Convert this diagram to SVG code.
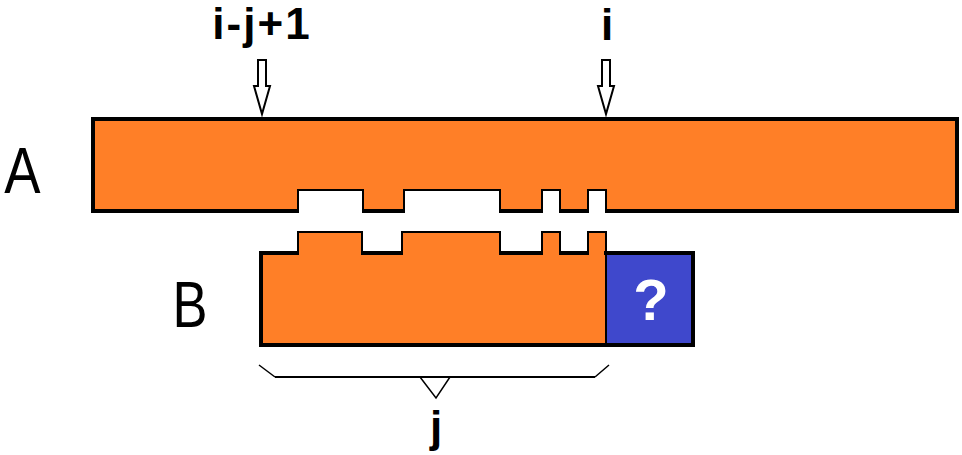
<svg xmlns="http://www.w3.org/2000/svg" width="962" height="455" viewBox="0 0 962 455">
<style>
.lbl{font-family:"Liberation Sans",Arial,sans-serif;font-weight:bold;fill:#000;text-anchor:middle}
.big{font-family:"Liberation Sans",Arial,sans-serif;fill:#000;text-anchor:middle}
.fillO{fill:#FF7F27;stroke:none}
.thick{fill:none;stroke:#000;stroke-width:4;stroke-linecap:square}
.thin{fill:none;stroke:#000;stroke-width:2}
.arrow{fill:#fff;stroke:#000;stroke-width:2;stroke-linejoin:miter}
</style>
<rect width="962" height="455" fill="#fff"/>
<g id="labels">
<text class="lbl" x="262" y="39" font-size="44" letter-spacing="2">i-j+1</text>
<text class="lbl" x="607" y="40" font-size="44">i</text>
<text class="big" x="0" y="0" font-size="64" transform="translate(22.5,193) scale(0.85,1)">A</text>
<text class="big" x="0" y="0" font-size="64" transform="translate(190,327) scale(0.82,1)">B</text>
<text class="lbl" x="436" y="442" font-size="44">j</text>
</g>
<g id="nodeA">
<path class="fillO" d="M93,119 H957 V211 H606 V190 H588 V211 H560 V190 H542 V211 H500 V190 H404 V211 H363 V190 H298 V211 H93 Z"/>
<path class="thick" d="M297,211 H93 V119 H957 V211 H607 M364,211 H403 M501,211 H541 M561,211 H587"/>
<path class="thin" d="M298,213 V190 H363 V213 M404,213 V190 H500 V213 M542,213 V190 H560 V213 M588,213 V190 H606 V213"/>
</g>
<g id="nodeB">
<path class="fillO" d="M261,253 H298 V232 H362 V253 H402 V232 H500 V253 H542 V232 H560 V253 H588 V232 H606 V345 H261 Z"/>
<path class="thick" d="M297,253 H261 V345 H606 M363,253 H401 M501,253 H541 M561,253 H587"/>
<path class="thin" d="M298,255 V232 H362 V255 M402,255 V232 H500 V255 M542,255 V232 H560 V255 M588,255 V232 H606 V345"/>
</g>
<g id="nodeQ">
<rect x="607" y="253" width="86" height="92" fill="#3F48CC"/>
<path class="thick" d="M606,253 H693 V345 H606"/>
<text class="lbl" x="651" y="320" font-size="58" style="fill:#fff">?</text>
</g>
<g id="connectors">
<polygon class="arrow" points="258,60 266,60 266,86 270,86 262,114 254,86 258,86"/>
<polygon class="arrow" points="602,60 610,60 610,86 614,86 606,114 598,86 602,86"/>
<path fill="none" stroke="#000" stroke-width="2" d="M275,377 H595"/>
<path fill="none" stroke="#000" stroke-width="1.5" d="M259,365 L275,377 M595,377 L609,365 M420,377 L436,398 L450,377"/>
</g>
</svg>
